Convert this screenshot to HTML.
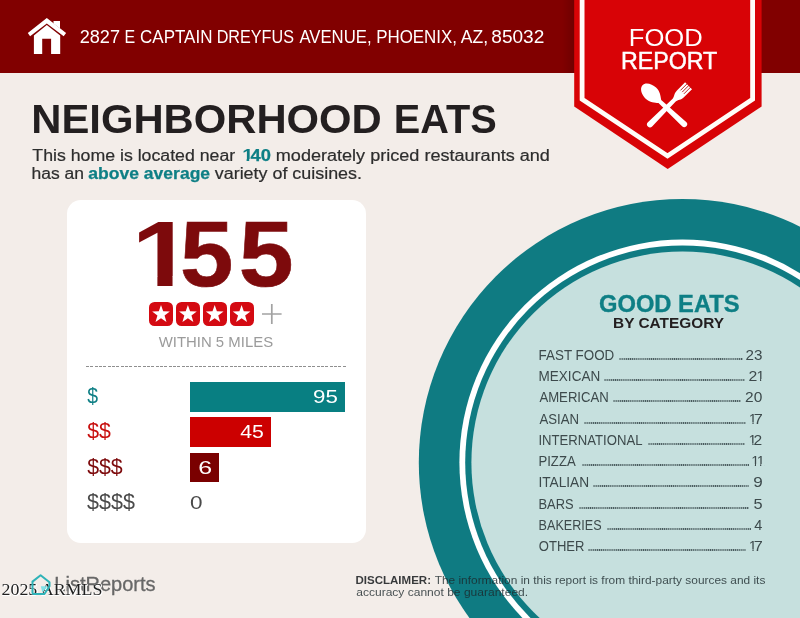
<!DOCTYPE html>
<html lang="en">
<head>
<meta charset="utf-8">
<title>Food Report - Neighborhood Eats</title>
<style>
html,body{margin:0;padding:0;}
body{width:800px;height:618px;overflow:hidden;background:#f3ede9;font-family:"Liberation Sans",sans-serif;}
#page{position:relative;width:800px;height:618px;overflow:hidden;background:#f3ede9;}
.t{position:absolute;white-space:nowrap;line-height:1;transform-origin:0 0;margin:0;padding:0;}
#hdr{position:absolute;left:0;top:0;width:800px;height:72.5px;background:#810000;}
#hdrshade{position:absolute;left:562px;top:0;width:12px;height:72.5px;background:linear-gradient(to right,rgba(70,0,0,0),rgba(70,0,0,0.3));}
#bg{position:absolute;left:0;top:0;}
#card{position:absolute;left:67px;top:199.5px;width:298.6px;height:343.2px;background:#fff;border-radius:14px;}
.bar{position:absolute;left:190px;}
.sq{position:absolute;top:302px;width:24px;height:24px;border-radius:5.5px;background:#d40a12;}
.mk{position:absolute;display:block;height:2px;background:#c6e0de;z-index:1;transform-origin:0 0;}
.c{display:inline-block;position:relative;transform-origin:0 0;line-height:1;}
.dots{position:absolute;height:2px;background-image:radial-gradient(circle at 1.05px 1px,#46575a 0.6px,rgba(70,87,90,0) 1.0px);background-size:2.1px 2px;background-repeat:repeat-x;}
</style>
</head>
<body>
<div id="page">

<!-- big circle -->
<svg id="bg" width="800" height="618" viewBox="0 0 800 618">
  <circle cx="682.4" cy="462.6" r="263.6" fill="#0f7b82"/>
  <circle cx="682.4" cy="462.6" r="223" fill="#ffffff"/>
  <circle cx="682.4" cy="462.6" r="217.2" fill="#0f7b82"/>
  <circle cx="682.4" cy="462.6" r="211" fill="#c6e0de"/>
</svg>

<div id="hdr"></div>
<div id="hdrshade"></div>

<!-- house icon -->
<svg class="t" style="left:26px;top:16px" width="42" height="40" viewBox="26 16 42 40">
  <path d="M46.8 18.1 L66.1 33 L63.7 36.3 L46.8 23.4 L30.1 36.3 L27.8 33 Z" fill="#fff"/>
  <path d="M53.5 20.9 H60 V28.6 L53.5 23.5 Z" fill="#fff"/>
  <path d="M46.8 25.1 L60.2 35.4 V54.1 H51.1 V38.7 H42.2 V54.1 H33.9 V35.4 Z" fill="#fff"/>
</svg>

<!-- banner -->
<svg class="t" style="left:560px;top:0" width="215" height="180" viewBox="560 0 215 180">
  <path d="M574.2 0 H761.6 V106.5 L667.7 168.9 L574.2 106.5 Z" fill="#d80306"/>
  <path d="M582.1 -5 V99.2 L667.5 155.9 L752.6 99.2 V-5" fill="none" stroke="#fffdf8" stroke-width="4.8" stroke-linejoin="miter"/>
  <!-- spoon -->
  <g transform="translate(666.8 108) rotate(-47)" fill="#fff">
    <path d="M0 -33.3 C4.6 -33.3 7.6 -27 7.6 -21.8 C7.6 -16 4.2 -12.5 2 -9.5 L3 23.7 A3 3 0 0 1 -3 23.7 L-2 -9.5 C-4.2 -12.5 -7.6 -16 -7.6 -21.8 C-7.6 -27 -4.6 -33.3 0 -33.3 Z"/>
  </g>
  <!-- fork -->
  <g transform="translate(668.4 105.9) rotate(45)" fill="#fff">
    <path d="M-4.9 -28.5 H4.9 V-17 C4.9 -12.5 2.5 -11.5 2 -8 L3 26 A3 3 0 0 1 -3 26 L-2 -8 C-2.5 -11.5 -4.9 -12.5 -4.9 -17 Z"/>
    <g stroke="#b8191c" stroke-width="0.9">
      <line x1="-2.45" y1="-29.5" x2="-2.45" y2="-19.5"/>
      <line x1="0" y1="-29.5" x2="0" y2="-19.5"/>
      <line x1="2.45" y1="-29.5" x2="2.45" y2="-19.5"/>
    </g>
  </g>
</svg>

<!-- card -->
<div id="card"></div>

<div class="sq" style="left:149px"></div>
<div class="sq" style="left:175.9px"></div>
<div class="sq" style="left:202.7px"></div>
<div class="sq" style="left:229.6px"></div>
<svg class="t" style="left:149px;top:301px" width="136" height="27" viewBox="149 301 136 27">
  <defs><path id="st" d="M0 -9.3 L2.2 -3.03 L8.85 -2.87 L3.56 1.16 L5.47 7.52 L0 3.75 L-5.47 7.52 L-3.56 1.16 L-8.85 -2.87 L-2.2 -3.03 Z" fill="#fff"/></defs>
  <use href="#st" x="161" y="314.4"/>
  <use href="#st" x="187.9" y="314.4"/>
  <use href="#st" x="214.7" y="314.4"/>
  <use href="#st" x="241.6" y="314.4"/>
  <path d="M262 314 H281.6 M271.8 304 V324" stroke="#a2a2a2" stroke-width="1.7" fill="none"/>
</svg>

<div style="position:absolute;left:86px;top:365.6px;width:259.8px;height:1.3px;background:repeating-linear-gradient(to right,#8f8f8f 0,#8f8f8f 3px,rgba(143,143,143,0) 3px,rgba(143,143,143,0) 4.35px);"></div>

<div class="bar" style="top:382px;height:30.1px;width:155.1px;background:#087f82;"></div>
<div class="bar" style="top:417.2px;height:30.2px;width:81.1px;background:#cc0000;"></div>
<div class="bar" style="top:453.2px;height:29.3px;width:28.7px;background:#7a0000;"></div>

<div class="dots" style="left:619.00px;top:358.00px;width:123.80px"></div>
<div class="dots" style="left:604.40px;top:379.00px;width:140.90px"></div>
<div class="dots" style="left:613.00px;top:400.40px;width:127.50px"></div>
<div class="dots" style="left:584.40px;top:421.60px;width:161.50px"></div>
<div class="dots" style="left:648.40px;top:443.00px;width:96.90px"></div>
<div class="dots" style="left:581.60px;top:464.00px;width:167.00px"></div>
<div class="dots" style="left:593.00px;top:485.40px;width:155.60px"></div>
<div class="dots" style="left:579.00px;top:506.60px;width:169.60px"></div>
<div class="dots" style="left:607.00px;top:528.00px;width:143.60px"></div>
<div class="dots" style="left:588.40px;top:549.40px;width:157.50px"></div>
<div class="t g" id="addr" style="left:0;top:28.49px;font-size:17.5px;color:#fff;"><span class="c" id="ad0" style="top:1.00px;transform:translateX(79.66px) scaleX(1.0356);">2827</span> <span class="c" id="ad1" style="top:1.00px;transform:translateX(80.45px) scaleX(0.9128);">E</span> <span class="c" id="ad2" style="top:1.00px;transform:translateX(80.05px) scaleX(0.9706);">CAPTAIN</span> <span class="c" id="ad3" style="top:1.00px;transform:translateX(76.65px) scaleX(0.9240);">DREYFUS</span> <span class="c" id="ad4" style="top:0.09px;transform:translateX(71.38px) scaleX(0.9553);">AVENUE,</span> <span class="c" id="ad5" style="top:1.00px;transform:translateX(67.15px) scaleX(0.9671);">PHOENIX,</span> <span class="c" id="ad6" style="top:1.00px;transform:translateX(63.71px) scaleX(1.0039);">AZ,</span> <span class="c" id="ad7" style="top:1.00px;transform:translateX(62.29px) scaleX(1.0892);">85032</span></div>
<div class="t" id="food" style="left:0;top:25.66px;font-size:24.5px;color:#fff;transform:translateX(628.76px) scaleX(1.0443);">FOOD</div>
<div class="t" id="report" style="left:0;top:49.21px;font-size:24.5px;color:#fff;-webkit-text-stroke:0.5px #fff;transform:translateX(620.94px) scaleX(0.9476);">REPORT</div>
<div class="t g" id="title" style="left:0;top:97.99px;font-size:41px;color:#231f20;"><span class="c" id="ti1" style="top:1.00px;font-weight:bold;transform:translateX(31.27px) scaleX(1.0191);">NEIGHBORHOOD</span> <span class="c" id="ti2" style="top:1.00px;font-weight:bold;transform:translateX(38.73px) scaleX(0.9680);">EATS</span></div>
<div class="t g" id="sub1" style="left:0;top:147.46px;font-size:16px;color:#2d2d2d;"><span class="c" id="s1a" style="top:1.00px;-webkit-text-stroke:0.2px #2d2d2d;transform:translateX(32.36px) scaleX(1.1070);">This home is located near</span> <span class="c" id="s1b1" style="top:1.00px;font-weight:bold;color:#0e7f85;z-index:0;transform:translateX(54.22px) scaleX(1.2458);">1</span><span class="c" id="s1b" style="top:0.75px;font-weight:bold;color:#0e7f85;-webkit-text-stroke:0.25px #0e7f85;z-index:2;transform:translateX(53.45px) scaleX(1.1459);">40</span> <span class="c" id="s1c" style="top:1.00px;-webkit-text-stroke:0.2px #2d2d2d;transform:translateX(56.81px) scaleX(1.1288);">moderately priced restaurants and</span></div>
<div class="t g" id="sub2" style="left:0;top:165.06px;font-size:16px;color:#2d2d2d;"><span class="c" id="s2a" style="top:1.00px;-webkit-text-stroke:0.2px #2d2d2d;transform:translateX(31.53px) scaleX(1.0923);">has an</span> <span class="c" id="s2b" style="top:0.75px;font-weight:bold;color:#0e7f85;-webkit-text-stroke:0.25px #0e7f85;transform:translateX(35.37px) scaleX(1.0950);">above average</span> <span class="c" id="s2c" style="top:1.00px;-webkit-text-stroke:0.2px #2d2d2d;transform:translateX(46.79px) scaleX(1.1181);">variety of cuisines.</span></div>
<div class="t g" id="big" style="left:0;top:207.90px;font-size:92.5px;color:#7d0a0c;"><span class="c" id="big1" style="font-weight:bold;z-index:0;transform:translateX(131.39px) scaleX(1.2019);">1</span><span class="c" id="big2" style="font-weight:bold;-webkit-text-stroke:0.6px #7d0a0c;z-index:2;transform:translateX(129.03px) scaleX(1.0381);">5</span><span class="c" id="big3" style="font-weight:bold;-webkit-text-stroke:0.6px #7d0a0c;z-index:2;transform:translateX(135.86px) scaleX(1.0666);">5</span></div>
<div class="t" id="within" style="left:0;top:335.13px;font-size:14.5px;color:#9b9b9b;transform:translateX(158.70px) scaleX(1.0288);">WITHIN 5 MILES</div>
<div class="t" id="d1" style="left:0;top:384.62px;font-size:21.6px;color:#0e7f85;transform:translateX(87.27px) scaleX(0.8992);">$</div>
<div class="t" id="d2" style="left:0;top:420.02px;font-size:21.6px;color:#c8100f;transform:translateX(87.13px) scaleX(0.9857);">$$</div>
<div class="t" id="d3" style="left:0;top:455.62px;font-size:21.6px;color:#7d0a0c;transform:translateX(87.13px) scaleX(0.9871);">$$$</div>
<div class="t" id="d4" style="left:0;top:491.12px;font-size:21.6px;color:#4a4a4a;transform:translateX(87.12px) scaleX(0.9940);">$$$$</div>
<div class="t" id="n1" style="left:0;top:388.16px;font-size:18.6px;color:#fff;transform:translateX(313.07px) scaleX(1.2001);">95</div>
<div class="t" id="n2" style="left:0;top:422.56px;font-size:18.6px;color:#fff;transform:translateX(240.25px) scaleX(1.1412);">45</div>
<div class="t" id="n3" style="left:0;top:459.16px;font-size:18.6px;color:#fff;transform:translateX(198.32px) scaleX(1.3426);">6</div>
<div class="t" id="n4" style="left:0;top:493.66px;font-size:18.6px;color:#4a4a4a;transform:translateX(190.10px) scaleX(1.2122);">0</div>
<div class="t" id="ge" style="left:0;top:292.71px;font-size:23.2px;font-weight:bold;color:#0e7f85;-webkit-text-stroke:0.35px #0e7f85;transform:translateX(598.98px) scaleX(1.0234);">GOOD EATS</div>
<div class="t" id="bc" style="left:0;top:315.73px;font-size:14.5px;font-weight:bold;color:#231f20;transform:translateX(613.08px) scaleX(1.0628);">BY CATEGORY</div>
<div class="t" id="r1" style="left:0;top:349.32px;font-size:13.8px;color:#3d4a4c;transform:translateX(538.60px) scaleX(0.9708);">FAST FOOD</div>
<div class="t" id="v1" style="left:0;top:349.32px;font-size:13.8px;color:#3d4a4c;transform:translateX(745.58px) scaleX(1.1015);">23</div>
<div class="t" id="r2" style="left:0;top:370.32px;font-size:13.8px;color:#3d4a4c;transform:translateX(538.58px) scaleX(0.9798);">MEXICAN</div>
<div class="t g" id="v2" style="left:0;top:369.32px;font-size:13.8px;color:#3d4a4c;"><span class="c" id="v2_0" style="top:1.05px;z-index:4;transform:translateX(748.59px) scaleX(1.1471);">2</span><span class="c" id="v2_1" style="top:1.00px;z-index:0;transform:translateX(748.62px) scaleX(1.0527);">1</span></div>
<div class="t" id="r3" style="left:0;top:391.05px;font-size:13.8px;color:#3d4a4c;transform:translateX(539.39px) scaleX(0.9529);">AMERICAN</div>
<div class="t" id="v3" style="left:0;top:390.72px;font-size:13.8px;color:#3d4a4c;transform:translateX(745.10px) scaleX(1.1225);">20</div>
<div class="t" id="r4" style="left:0;top:412.96px;font-size:13.8px;color:#3d4a4c;transform:translateX(539.38px) scaleX(0.9556);">ASIAN</div>
<div class="t g" id="v4" style="left:0;top:411.92px;font-size:13.8px;color:#3d4a4c;"><span class="c" id="v4_0" style="top:1.00px;z-index:0;transform:translateX(748.76px) scaleX(1.0480);">1</span><span class="c" id="v4_1" style="top:1.00px;z-index:4;transform:translateX(745.64px) scaleX(1.1818);">7</span></div>
<div class="t" id="r5" style="left:0;top:434.26px;font-size:13.8px;color:#3d4a4c;transform:translateX(538.41px) scaleX(0.9516);">INTERNATIONAL</div>
<div class="t g" id="v5" style="left:0;top:433.32px;font-size:13.8px;color:#3d4a4c;"><span class="c" id="v5_0" style="top:1.00px;z-index:0;transform:translateX(748.62px) scaleX(1.0567);">1</span><span class="c" id="v5_1" style="top:1.00px;z-index:4;transform:translateX(745.61px) scaleX(1.1313);">2</span></div>
<div class="t" id="r6" style="left:0;top:455.42px;font-size:13.8px;color:#3d4a4c;transform:translateX(538.45px) scaleX(0.9530);">PIZZA</div>
<div class="t g" id="v6" style="left:0;top:454.32px;font-size:13.8px;color:#3d4a4c;"><span class="c" id="v6_0" style="top:1.00px;z-index:0;transform:translateX(751.18px) scaleX(1.0427);">1</span><span class="c" id="v6_1" style="top:1.00px;z-index:2;transform:translateX(748.72px) scaleX(1.0441);">1</span></div>
<div class="t" id="r7" style="left:0;top:475.72px;font-size:13.8px;color:#3d4a4c;transform:translateX(538.45px) scaleX(0.9913);">ITALIAN</div>
<div class="t" id="v7" style="left:0;top:475.72px;font-size:13.8px;color:#3d4a4c;transform:translateX(753.16px) scaleX(1.2381);">9</div>
<div class="t" id="r8" style="left:0;top:497.92px;font-size:13.8px;color:#3d4a4c;transform:translateX(538.52px) scaleX(0.9325);">BARS</div>
<div class="t" id="v8" style="left:0;top:497.92px;font-size:13.8px;color:#3d4a4c;transform:translateX(753.38px) scaleX(1.1845);">5</div>
<div class="t" id="r9" style="left:0;top:518.98px;font-size:13.8px;color:#3d4a4c;transform:translateX(538.61px) scaleX(0.9128);">BAKERIES</div>
<div class="t" id="v9" style="left:0;top:518.53px;font-size:13.8px;color:#3d4a4c;transform:translateX(754.16px) scaleX(1.0532);">4</div>
<div class="t" id="r10" style="left:0;top:539.72px;font-size:13.8px;color:#3d4a4c;transform:translateX(538.83px) scaleX(0.9447);">OTHER</div>
<div class="t g" id="v10" style="left:0;top:539.72px;font-size:13.8px;color:#3d4a4c;"><span class="c" id="v10_0" style="z-index:0;transform:translateX(748.76px) scaleX(1.0480);">1</span><span class="c" id="v10_1" style="z-index:4;transform:translateX(745.64px) scaleX(1.1818);">7</span></div>
<div class="t" id="lr" style="left:0;top:575.16px;font-size:19.6px;color:#676767;-webkit-text-stroke:0.3px #676767;transform:translateX(54.32px) scaleX(1.0214);">ListReports</div>
<div class="t" id="wm" style="left:0;top:581.60px;font-size:16px;font-family:'Liberation Serif',serif;color:#1f1f1f;text-shadow:1px 1px 0 #fff,1px 0 0 #fff,0 1px 0 #fff,0 0 1px #fff;transform:translateX(1.51px) scaleX(1.1173);">2025 ARMLS</div>
<div class="t g" id="dis" style="left:0;top:574.83px;font-size:11.3px;color:rgba(28,32,34,0.88);"><span class="c" id="dis0" style="font-weight:bold;transform:translateX(355.51px) scaleX(1.0194);">DISCLAIMER:</span> <span class="c" id="dis1" style="color:rgba(28,40,44,0.82);transform:translateX(357.66px) scaleX(1.0534);">The information in this report is from third-party sources and its</span></div>
<div class="t" id="dis2" style="left:0;top:586.53px;font-size:11.3px;color:rgba(28,40,44,0.82);transform:translateX(356.21px) scaleX(1.0651);">accuracy cannot be guaranteed.</div>
<i class="mk" style="left:0;top:158.87px;width:1px;height:2.53px;background:#f3ede9;z-index:1;transform:translateX(242.43px) scaleX(4.15)"></i><i class="mk" style="left:0;top:158.87px;width:1px;height:2.53px;background:#f3ede9;z-index:1;transform:translateX(249.21px) scaleX(3.89)"></i>
<i class="mk" style="left:0;top:276.06px;width:1px;height:10.34px;background:#fff;z-index:1;transform:translateX(137.69px) scaleX(19.70)"></i><i class="mk" style="left:0;top:276.06px;width:1px;height:10.34px;background:#fff;z-index:1;transform:translateX(172.54px) scaleX(18.28)"></i>
<i class="mk" style="left:0;top:379.47px;width:1px;height:1.93px;background:#c6e0de;z-index:1;transform:translateX(756.71px) scaleX(3.30)"></i><i class="mk" style="left:0;top:379.47px;width:1px;height:1.93px;background:#c6e0de;z-index:1;transform:translateX(761.19px) scaleX(3.18)"></i>
<i class="mk" style="left:0;top:422.47px;width:1px;height:1.93px;background:#c6e0de;z-index:1;transform:translateX(749.16px) scaleX(3.29)"></i><i class="mk" style="left:0;top:422.47px;width:1px;height:1.93px;background:#c6e0de;z-index:1;transform:translateX(753.62px) scaleX(3.17)"></i>
<i class="mk" style="left:0;top:443.47px;width:1px;height:1.93px;background:#c6e0de;z-index:1;transform:translateX(749.03px) scaleX(3.31)"></i><i class="mk" style="left:0;top:443.47px;width:1px;height:1.93px;background:#c6e0de;z-index:1;transform:translateX(753.53px) scaleX(3.19)"></i>
<i class="mk" style="left:0;top:464.47px;width:1px;height:1.93px;background:#c6e0de;z-index:1;transform:translateX(751.58px) scaleX(3.27)"></i><i class="mk" style="left:0;top:464.47px;width:1px;height:1.93px;background:#c6e0de;z-index:1;transform:translateX(756.02px) scaleX(3.16)"></i>
<i class="mk" style="left:0;top:464.47px;width:1px;height:1.93px;background:#c6e0de;z-index:3;transform:translateX(756.80px) scaleX(3.28)"></i><i class="mk" style="left:0;top:464.47px;width:1px;height:1.93px;background:#c6e0de;z-index:3;transform:translateX(761.25px) scaleX(3.16)"></i>
<i class="mk" style="left:0;top:549.47px;width:1px;height:1.93px;background:#c6e0de;z-index:1;transform:translateX(749.16px) scaleX(3.29)"></i><i class="mk" style="left:0;top:549.47px;width:1px;height:1.93px;background:#c6e0de;z-index:1;transform:translateX(753.62px) scaleX(3.17)"></i>


<!-- listreports mark -->
<svg class="t" style="left:28px;top:571px" width="26" height="27" viewBox="28 571 26 27">
  <path d="M40.6 575.2 L49.5 582.2 V586.2 L44.4 594 H34 Q32.5 594 32.5 592.5 V581.6 Z" fill="none" stroke="#2fb3b8" stroke-width="2" stroke-linejoin="round"/>
  <path d="M40.8 586.2 H47.6 L42.4 592.6 Z" fill="#7fe0e6"/>
</svg>

</div>
</body>
</html>
